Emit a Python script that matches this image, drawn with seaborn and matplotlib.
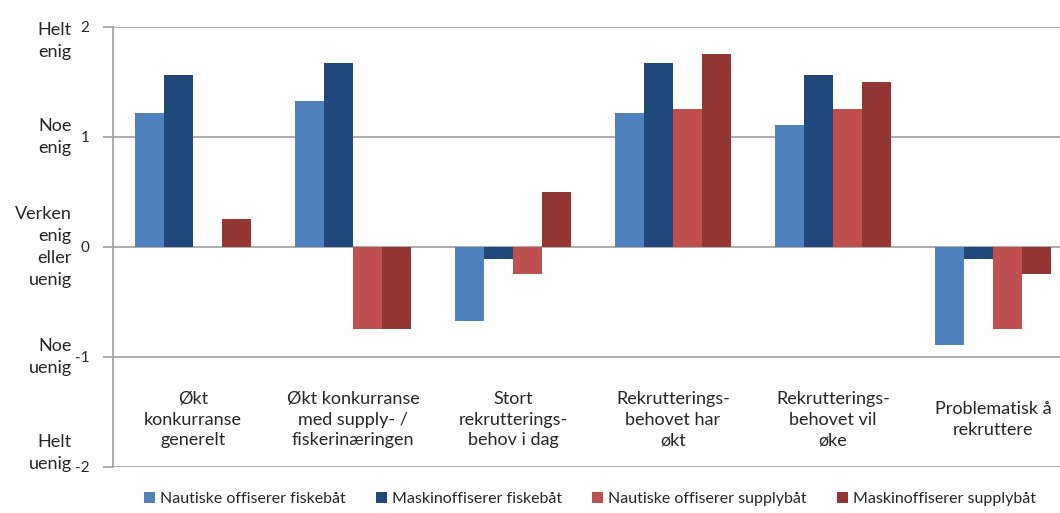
## grouped bar chart: agreement scores per statement

import numpy as np
import pandas as pd
import seaborn as sns
import matplotlib.pyplot as plt

# statements on the x axis
categories = ["Økt\nkonkurranse\ngenerelt",
              "Økt konkurranse\nmed supply- /\nfiskerinæringen",
              "Stort\nrekrutterings-\nbehov i dag",
              "Rekrutterings-\nbehovet har\nøkt",
              "Rekrutterings-\nbehovet vil\nøke",
              "Problematisk å\nrekruttere"]

# groups (series)
series = ["Nautiske offiserer fiskebåt", "Maskinoffiserer fiskebåt",
          "Nautiske offiserer supplybåt", "Maskinoffiserer supplybåt"]

naut_fisk = [1.22, 1.33, -0.67, 1.22, 1.11, -0.89]
mask_fisk = [1.56, 1.67, -0.11, 1.67, 1.56, -0.11]
naut_supply = [np.nan, -0.75, -0.25, 1.25, 1.25, -0.75]
mask_supply = [0.25, -0.75, 0.50, 1.75, 1.50, -0.25]

# y tick values and the scale text beside them
yticks = [-2, -1, 0, 1, 2]
scale_text = ["Helt\nenig", "Noe\nenig", "Verken\nenig\neller\nuenig", "Noe\nuenig", "Helt\nuenig"]
scale_pos = [1.87, 1.0, 0.0, -1.0, -1.87]

colors = ["#4F81BD", "#1F497D", "#C0504D", "#943634"]
palette = dict(zip(series, colors))

values = [naut_fisk, mask_fisk, naut_supply, mask_supply]
rows = []
for s, vals in zip(series, values):
    for c, v in zip(categories, vals):
        rows.append({"Statement": c, "Group": s, "Score": v})
df = pd.DataFrame(rows)

sns.set_style("white")
plt.rcParams['font.family'] = ['Lato', 'DejaVu Sans']

fig = plt.figure(figsize=(10.6, 5.13), dpi=100)
ax = fig.add_axes([0.1066, 0.0897, 0.9057, 0.8577])

p = sns.barplot(data=df, x="Statement", y="Score", hue="Group", hue_order=series,
                order=categories, palette=palette, width=0.725, gap=0,
                saturation=1, linewidth=0, ax=ax, legend=True)

ax.set_xlim(-0.5, 5.5)
ax.set_ylim(-2, 2)
ax.set_yticks(yticks)
ax.set_yticklabels([str(t) for t in yticks], fontsize=11)
ax.set_xticks([])
ax.set(xlabel="", ylabel="")

for t in yticks:
    ax.axhline(t, color="#a0a0a0", linewidth=1.2, zorder=0)

for side in ["top", "right", "bottom"]:
    ax.spines[side].set_visible(False)
ax.spines["left"].set_color("#a0a0a0")
ax.spines["left"].set_linewidth(1.2)
ax.tick_params(axis="y", left=True, length=7, width=1.2, color="#a0a0a0", pad=10)

# statement labels inside the plot area
for i, c in enumerate(categories):
    ax.text(i, -1.57, c, ha="center", va="center", fontsize=13, linespacing=1.35)

# scale labels to the left of the tick numbers
for txt, y in zip(scale_text, scale_pos):
    ax.text(-0.043, y, txt, transform=ax.get_yaxis_transform(), ha="right", va="center",
            fontsize=13, linespacing=1.45)

handles, labels = ax.get_legend_handles_labels()
ax.legend_.remove()
fig.legend(handles, labels, loc="lower left", bbox_to_anchor=(0.122, -0.014), ncol=4,
           frameon=False, fontsize=11.5, handlelength=0.7, handleheight=0.7,
           handletextpad=0.3, columnspacing=1.9)

fig.savefig("out.png", dpi=100)
